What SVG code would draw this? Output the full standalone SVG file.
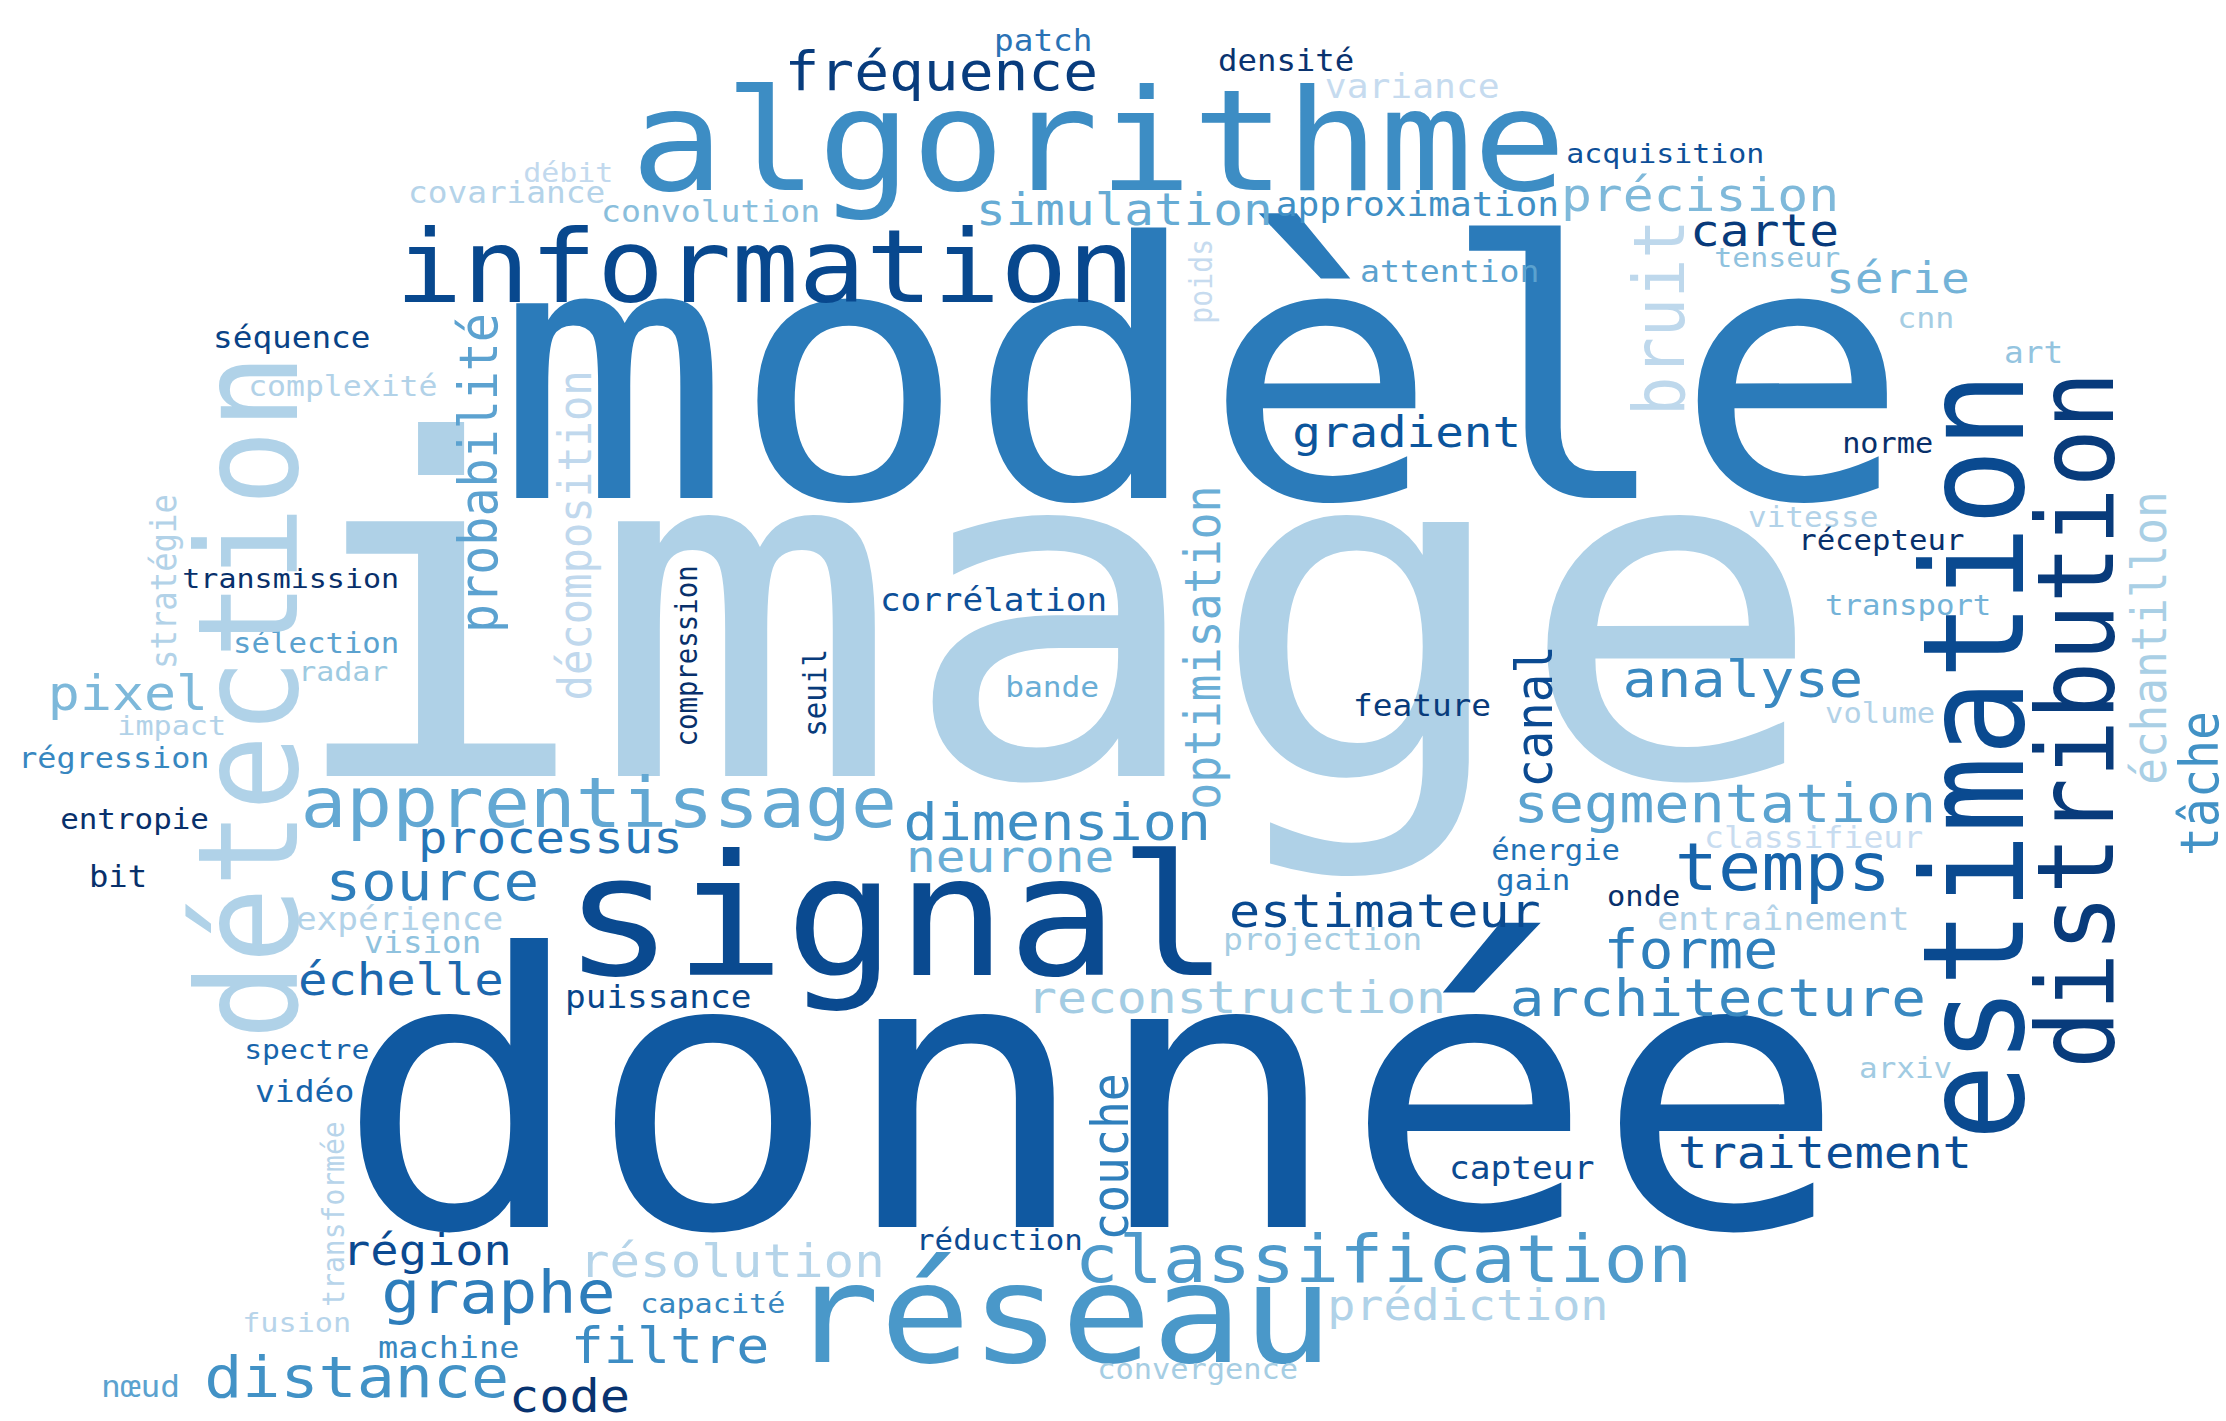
<svg xmlns="http://www.w3.org/2000/svg" width="2226" height="1421" viewBox="0 0 2226 1421">
<style>
text{font-family:"DejaVu Sans Mono","Liberation Mono",monospace;}
</style>
<rect width="2226" height="1421" fill="#ffffff"/>
<g id="cloud" transform="scale(1.1,1)">
<text x="256.5" y="776" font-size="466" fill="#afd1e7">image</text>
<text x="450.4" y="498" font-size="356" fill="#2b7bba">modèle</text>
<text x="304.5" y="1227" font-size="380.5" fill="#1059a1">donnée</text>
<text x="511.8" y="975" font-size="167.7" fill="#0a4a90">signal</text>
<text x="573.3" y="190" font-size="141.3" fill="#3d8dc4">algorithme</text>
<text x="359.4" y="302" font-size="101.5" fill="#08488e">information</text>
<text x="717.3" y="1362" font-size="136.9" fill="#4a98c9">réseau</text>
<text x="976.9" y="1282" font-size="66.6" fill="#4e9acb">classification</text>
<text x="273.1" y="827" font-size="69.3" fill="#63a8d3">apprentissage</text>
<text x="1522.5" y="890" font-size="65.3" fill="#1764ab">temps</text>
<text x="1375.9" y="822" font-size="53.2" fill="#5ba3d0">segmentation</text>
<text x="1372.4" y="1016" font-size="52.4" fill="#3a89c1">architecture</text>
<text x="1475.1" y="697" font-size="51.9" fill="#3a89c1">analyse</text>
<text x="821.4" y="840" font-size="51.6" fill="#3f8fc5">dimension</text>
<text x="823.7" y="872" font-size="44.9" fill="#6aaed6">neurone</text>
<text x="380" y="853" font-size="44.4" fill="#2474b7">processus</text>
<text x="295.9" y="900" font-size="53.8" fill="#2e7ebc">source</text>
<text x="346.5" y="1313" font-size="59" fill="#2d7dbb">graphe</text>
<text x="185.6" y="1397" font-size="57.6" fill="#4292c6">distance</text>
<text x="518.8" y="1363" font-size="50" fill="#3d8dc4">filtre</text>
<text x="526.3" y="1277" font-size="46.2" fill="#b5d4e9">résolution</text>
<text x="933.7" y="1013" font-size="45.2" fill="#a3cce3">reconstruction</text>
<text x="1117.2" y="927" font-size="47.1" fill="#0a4a90">estimateur</text>
<text x="1457.7" y="968" font-size="52.8" fill="#2f7fbc">forme</text>
<text x="1525.5" y="1168" font-size="44.4" fill="#0b4d95">traitement</text>
<text x="1206.5" y="1320" font-size="42.5" fill="#b0d2e8">prédiction</text>
<text x="1174.7" y="447" font-size="43.2" fill="#0b559c">gradient</text>
<text x="887.3" y="225" font-size="44.8" fill="#66abd4">simulation</text>
<text x="713.2" y="90" font-size="52.6" fill="#083c7d">fréquence</text>
<text x="1419" y="211" font-size="46.7" fill="#7fb9da">précision</text>
<text x="1536.4" y="246" font-size="45" fill="#083a7a">carte</text>
<text x="1660.1" y="293" font-size="43.4" fill="#74b3d8">série</text>
<text x="43.5" y="710" font-size="48.4" fill="#7db8da">pixel</text>
<text x="270.9" y="995" font-size="44.4" fill="#1c68ae">échelle</text>
<text x="311" y="1265" font-size="42.7" fill="#0b4a91">région</text>
<text x="462.8" y="1412" font-size="45.7" fill="#083370">code</text>
<text x="903.7" y="51" font-size="29.7" fill="#2a72b5">patch</text>
<text x="1107.3" y="71" font-size="29.4" fill="#0a336f">densité</text>
<text x="1204.4" y="98" font-size="33" fill="#c6dbef">variance</text>
<text x="475.7" y="182" font-size="27.2" fill="#c2d9ee">débit</text>
<text x="370.9" y="203" font-size="29.8" fill="#b4d3e9">covariance</text>
<text x="546.4" y="222" font-size="30.1" fill="#89bedc">convolution</text>
<text x="1159.8" y="216" font-size="32.9" fill="#3f8fc5">approximation</text>
<text x="1423.9" y="163" font-size="27.2" fill="#0d4f98">acquisition</text>
<text x="1558.4" y="267" font-size="27.2" fill="#8fc2de">tenseur</text>
<text x="1236.4" y="282" font-size="30.1" fill="#5ba2cf">attention</text>
<text x="1724.7" y="328" font-size="28.8" fill="#a5cde3">cnn</text>
<text x="1821.8" y="363" font-size="29.8" fill="#94c4df">art</text>
<text x="1674.7" y="453" font-size="27.5" fill="#08306b">norme</text>
<text x="193.7" y="348" font-size="29.7" fill="#084387">séquence</text>
<text x="225.6" y="396" font-size="28.6" fill="#b2d2e8">complexité</text>
<text x="1589.2" y="527" font-size="28.1" fill="#b2d2e8">vitesse</text>
<text x="1634.7" y="550" font-size="27.9" fill="#08306b">récepteur</text>
<text x="1659.2" y="615" font-size="27.9" fill="#74b3d8">transport</text>
<text x="1659.2" y="723" font-size="27.7" fill="#b2d2e8">volume</text>
<text x="1549.1" y="848" font-size="30.1" fill="#c8dcf0">classifieur</text>
<text x="1355.6" y="860" font-size="27.8" fill="#2171b5">énergie</text>
<text x="1360.1" y="890" font-size="28" fill="#2171b5">gain</text>
<text x="1461" y="906" font-size="27.6" fill="#08306b">onde</text>
<text x="1506.3" y="930" font-size="31.8" fill="#b2d2e8">entraînement</text>
<text x="1230" y="716" font-size="29.8" fill="#083b7b">feature</text>
<text x="1690.1" y="1078" font-size="28.1" fill="#a1cbe2">arxiv</text>
<text x="1317.2" y="1179" font-size="31.4" fill="#0b4a91">capteur</text>
<text x="799.9" y="611" font-size="31.2" fill="#0d4f98">corrélation</text>
<text x="913.8" y="697" font-size="28.4" fill="#6aaed6">bande</text>
<text x="1111.8" y="950" font-size="30.1" fill="#a5cde3">projection</text>
<text x="832.8" y="1250" font-size="28" fill="#0b4a91">réduction</text>
<text x="997.4" y="1379" font-size="27.6" fill="#a5cde3">convergence</text>
<text x="165.7" y="588" font-size="27.3" fill="#08306b">transmission</text>
<text x="211.9" y="653" font-size="27.9" fill="#5ba2cf">sélection</text>
<text x="271.1" y="681" font-size="27.2" fill="#9ecae1">radar</text>
<text x="106.6" y="735" font-size="27.4" fill="#b2d2e8">impact</text>
<text x="16.5" y="768" font-size="28.9" fill="#3787c0">régression</text>
<text x="54.7" y="829" font-size="28.1" fill="#08306b">entropie</text>
<text x="80.9" y="887" font-size="29.3" fill="#08306b">bit</text>
<text x="269" y="930" font-size="31.3" fill="#b2d2e8">expérience</text>
<text x="330.9" y="953" font-size="29.5" fill="#8fc2de">vision</text>
<text x="513.6" y="1008" font-size="31.3" fill="#08468b">puissance</text>
<text x="222" y="1059" font-size="27" fill="#1764ab">spectre</text>
<text x="231.8" y="1102" font-size="30" fill="#1764ab">vidéo</text>
<text x="582" y="1313" font-size="27.4" fill="#3787c0">capacité</text>
<text x="220.2" y="1332" font-size="27.4" fill="#b7d4ea">fusion</text>
<text x="343.7" y="1358" font-size="30.5" fill="#3787c0">machine</text>
<text x="91.8" y="1397" font-size="29.9" fill="#5ba2cf">nœud</text>
<text transform="translate(270,1039.6) rotate(-90)" font-size="126.6" fill="#b0d2e8">détection</text>
<text transform="translate(451.8,632.9) rotate(-90)" font-size="48.3" fill="#5ca2d0">probabilité</text>
<text transform="translate(537.3,700.5) rotate(-90)" font-size="42.2" fill="#c0d8ed">décomposition</text>
<text transform="translate(1530.9,415.9) rotate(-90)" font-size="65.3" fill="#bed8ec">bruit</text>
<text transform="translate(1101.5,323.7) rotate(-90)" font-size="28.2" fill="#c6dbef">poids</text>
<text transform="translate(1109.1,809.7) rotate(-90)" font-size="44.9" fill="#6aaed6">optimisation</text>
<text transform="translate(633.6,746.6) rotate(-90)" font-size="27.4" fill="#08306b">compression</text>
<text transform="translate(750.9,736.8) rotate(-90)" font-size="29.2" fill="#083b7b">seuil</text>
<text transform="translate(160,669) rotate(-90)" font-size="32.3" fill="#b2d2e8">stratégie</text>
<text transform="translate(312.7,1306.7) rotate(-90)" font-size="28" fill="#b7d4ea">transformée</text>
<text transform="translate(1025.5,1240.8) rotate(-90)" font-size="46.4" fill="#2f7fbc">couche</text>
<text transform="translate(1410.9,787.8) rotate(-90)" font-size="47.4" fill="#0b4a91">canal</text>
<text transform="translate(1839.1,1140.7) rotate(-90)" font-size="127.7" fill="#0a4a90">estimation</text>
<text transform="translate(1920.9,1068.8) rotate(-90)" font-size="96.6" fill="#083b7b">distribution</text>
<text transform="translate(1969.1,784.7) rotate(-90)" font-size="44.3" fill="#a9cfe5">échantillon</text>
<text transform="translate(2016.5,855.9) rotate(-90)" font-size="48.1" fill="#4292c6">tâche</text>
</g>
</svg>
